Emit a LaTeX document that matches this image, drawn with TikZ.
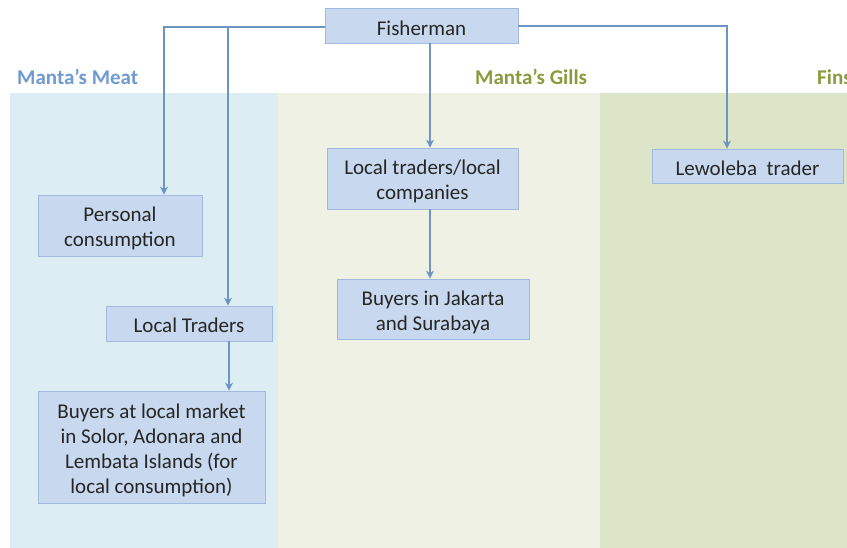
\documentclass[tikz,border=0pt]{standalone}
\usepackage{fontspec}
\setmainfont{Carlito}
\usetikzlibrary{arrows.meta}
\definecolor{meatbg}{RGB}{221,237,244}
\definecolor{gillsbg}{RGB}{238,241,228}
\definecolor{finsbg}{RGB}{220,229,200}
\definecolor{boxfill}{RGB}{200,216,238}
\definecolor{boxdraw}{RGB}{160,185,220}
\definecolor{linecol}{RGB}{110,148,195}
\definecolor{meathead}{RGB}{111,155,209}
\definecolor{gillshead}{RGB}{138,154,60}
\tikzset{
  flowbox/.style={draw=boxdraw, fill=boxfill, line width=0.8pt, inner sep=0pt},
  boxtext/.style={inner sep=0pt, align=center, font=\fontsize{21}{25}\selectfont, text=black!85},
  header/.style={font=\bfseries\fontsize{21}{24}\selectfont, inner sep=0pt, anchor=base west},
  flow/.style={draw=linecol, line width=2.2pt, -{Stealth[length=8pt,width=8pt]}}
}
\begin{document}
\begin{tikzpicture}[x=1pt,y=-1pt]
\useasboundingbox (0,0) rectangle (847,548);
\clip (0,0) rectangle (847,548);
\fill[white] (0,0) rectangle (847,548);
% panels
\fill[meatbg] (10,93) rectangle (278,548);
\fill[gillsbg] (278,93) rectangle (600,548);
\fill[finsbg] (600,93) rectangle (847,548);
% headers
\node[header, text=meathead] (hmeat) at (17,85) {Manta’s Meat};
\node[header, text=gillshead] (hgills) at (475,85) {Manta’s Gills};
\node[header, text=gillshead] (hfins) at (817,85) {Fins};
% boxes
\node[flowbox, minimum width=193pt, minimum height=35pt] (fish) at (421.5,25.5) {};
\node[boxtext] (fisht) at ([yshift=-2.5pt]fish.center) {Fisherman};
\node[flowbox, minimum width=164pt, minimum height=61pt] (pers) at (120,225.5) {};
\node[boxtext] (perst) at ([yshift=-3pt]pers.center) {Personal\\consumption};
\node[flowbox, minimum width=166pt, minimum height=35pt] (ltr) at (189,323.5) {};
\node[boxtext] (ltrt) at ([yshift=-2pt]ltr.center) {Local Traders};
\node[flowbox, minimum width=227pt, minimum height=112pt] (blm) at (151.5,447) {};
\node[boxtext] (blmt) at ([yshift=-3pt]blm.center) {Buyers at local market\\in Solor, Adonara and\\Lembata Islands (for\\local consumption)};
\node[flowbox, minimum width=191pt, minimum height=61pt] (ltc) at (422.5,178.5) {};
\node[boxtext] (ltct) at ([yshift=-3pt]ltc.center) {Local traders/local\\companies};
\node[flowbox, minimum width=192pt, minimum height=60pt] (bjs) at (433,309) {};
\node[boxtext] (bjst) at ([yshift=-3pt]bjs.center) {Buyers in Jakarta\\and Surabaya};
\node[flowbox, minimum width=191pt, minimum height=34pt] (lew) at (747.5,166) {};
\node[boxtext] (lewt) at ([yshift=-2.5pt]lew.center) {Lewoleba\ \ trader};
% connectors
\draw[flow] (fish.west |- 0,27) -| (pers.north -| 164,0);
\draw[flow] (228,27) -- (ltr.north -| 228,0);
\draw[flow] (fish.south -| 430,0) -- (ltc.north -| 430,0);
\draw[flow] (fish.east |- 0,26) -| (lew.north -| 727,0);
\draw[flow] (ltc.south -| 430,0) -- (bjs.north -| 430,0);
\draw[flow] (ltr.south -| 229,0) -- (blm.north -| 229,0);
\end{tikzpicture}
\end{document}
